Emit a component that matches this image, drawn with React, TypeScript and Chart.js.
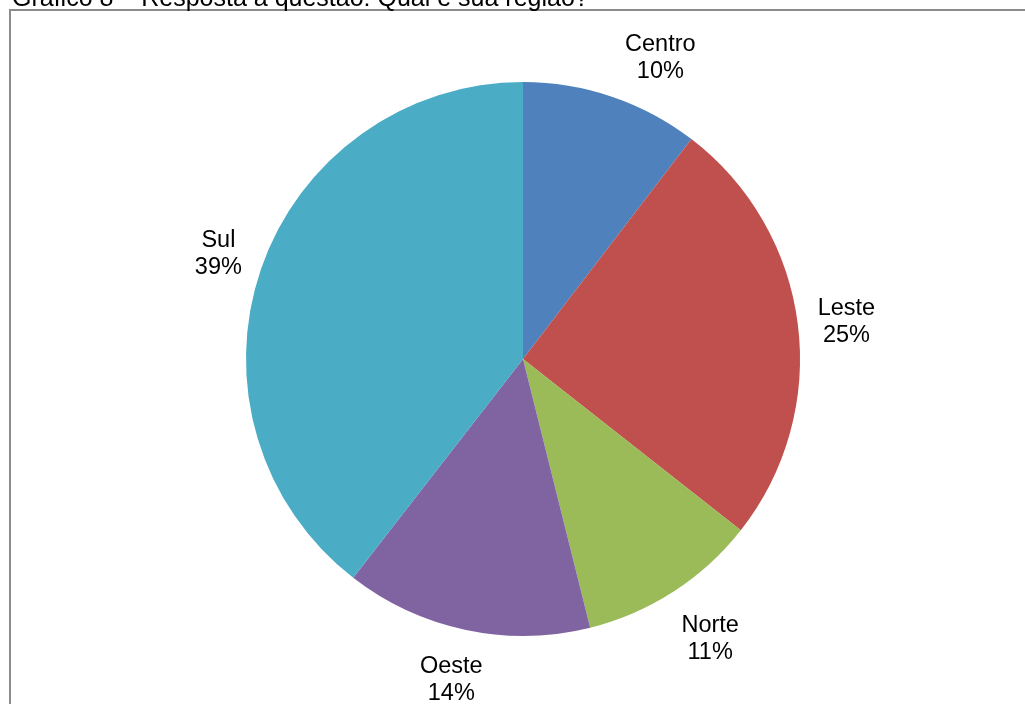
import React, { useEffect, useRef } from "react";
import { Chart, registerables } from "chart.js";

Chart.register(...registerables);

const TITLE = "Gráfico 8 – Resposta à questão: Qual é sua região?";
const categories = ["Centro", "Leste", "Norte", "Oeste", "Sul"];
const values = [10.4, 25.2, 10.5, 14.4, 39.5];
const percentLabels = ["10%", "25%", "11%", "14%", "39%"];
const colors = ["#4F81BD", "#C0504D", "#9BBB59", "#8064A2", "#4BACC6"];

const FONT = "23.5px 'Liberation Sans', Arial, sans-serif";
const TITLE_FONT = "25px 'Liberation Sans', Arial, sans-serif";

const framePlugin = {
  id: "frame",
  beforeDraw(chart: any) {
    const ctx = chart.ctx;
    ctx.save();
    ctx.fillStyle = "#ffffff";
    ctx.fillRect(0, 0, chart.width, chart.height);
    ctx.strokeStyle = "#8c8c8c";
    ctx.lineWidth = 2;
    ctx.beginPath();
    ctx.moveTo(10, chart.height + 5);
    ctx.lineTo(10, 10);
    ctx.lineTo(chart.width + 5, 10);
    ctx.stroke();
    ctx.fillStyle = "#000000";
    ctx.font = TITLE_FONT;
    ctx.textBaseline = "alphabetic";
    ctx.textAlign = "left";
    ctx.fillText(TITLE, 12, 6);
    ctx.restore();
  },
};

const labelPlugin = {
  id: "outLabels",
  afterDatasetsDraw(chart: any) {
    const ctx = chart.ctx;
    const meta = chart.getDatasetMeta(0);
    ctx.save();
    ctx.font = FONT;
    ctx.fillStyle = "#000000";
    ctx.textAlign = "center";
    ctx.textBaseline = "middle";
    const lineH = 27;
    meta.data.forEach((arc: any, i: number) => {
      const p = arc.getProps(["x", "y", "startAngle", "endAngle", "outerRadius"], true);
      const mid = (p.startAngle + p.endAngle) / 2;
      const dx = Math.cos(mid);
      const dy = Math.sin(mid);
      const w = Math.max(ctx.measureText(categories[i]).width, ctx.measureText(percentLabels[i]).width);
      const h = lineH * 2;
      const k = 1.6;
      const ax = p.x + (p.outerRadius + 18) * dx;
      const ay = p.y + (p.outerRadius + 18) * dy;
      const cx = ax + (w / 2 + 2) * Math.max(-1, Math.min(1, dx * k)) + (dy < -0.9 ? w / 3 : 0);
      const cy = ay + (h / 2) * Math.max(-1, Math.min(1, dy * k)) + 5;
      ctx.fillText(categories[i], cx, cy - lineH / 2);
      ctx.fillText(percentLabels[i], cx, cy + lineH / 2);
    });
    ctx.restore();
  },
};

export default function App() {
  const ref = useRef<HTMLCanvasElement | null>(null);
  useEffect(() => {
    if (!ref.current) return;
    const chart = new Chart(ref.current, {
      type: "pie",
      data: {
        labels: categories,
        datasets: [
          {
            data: values,
            backgroundColor: colors,
            borderWidth: 0,
          },
        ],
      },
      options: {
        animation: false,
        responsive: false,
        layout: { padding: { left: 246, right: 1025 - 800, top: 82, bottom: 704 - 636 } },
        plugins: {
          legend: { display: false },
          tooltip: { enabled: false },
        },
      },
      plugins: [framePlugin, labelPlugin],
    });
    return () => chart.destroy();
  }, []);
  return (
    <div style={{ position: "absolute", left: 0, top: 0, width: 1025, height: 704 }}>
      <canvas ref={ref} width={1025} height={704} style={{ display: "block", width: 1025, height: 704 }} />
    </div>
  );
}
